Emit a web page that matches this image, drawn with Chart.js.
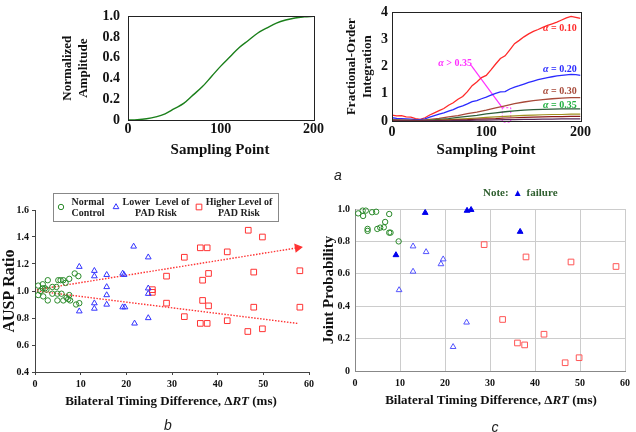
<!DOCTYPE html>
<html>
<head>
<meta charset="utf-8">
<script src="https://cdn.jsdelivr.net/npm/chart.js@4.4.1/dist/chart.umd.min.js"></script>
<style>
  html, body { margin: 0; padding: 0; background: #fff; }
  body { width: 636px; height: 432px; position: relative; overflow: hidden; }
  canvas { position: absolute; }
  .tag { position: absolute; font: italic 14px "Liberation Sans", Arial, sans-serif; color: #222; transform: translate(-50%, -50%); }
  .note { position: absolute; font: bold 11px "Liberation Serif", serif; color: #2f5f2f; white-space: nowrap; transform: translateY(-50%); }
  .note span { color: #0000ee; font-size: 10px; margin: 0 4px; }
</style>
</head>
<body>
<canvas id="ampChart" width="270" height="170" style="left:55px;top:0"></canvas>
<canvas id="fracChart" width="256" height="170" style="left:338px;top:0"></canvas>
<canvas id="ratioChart" width="320" height="250" style="left:0;top:180px"></canvas>
<canvas id="probChart" width="316" height="250" style="left:320px;top:180px"></canvas>
<div class="tag" style="left:338px;top:175px">a</div>
<div class="tag" style="left:168px;top:425px">b</div>
<div class="tag" style="left:495px;top:427px">c</div>
<div class="note" style="left:483px;top:192px">Note:<span>▲</span>failure</div>

<script>
// ---- datos panel a (izquierda): amplitud normalizada ----
const ampX = [0, 10, 20, 30, 40, 50, 60, 70, 80, 90, 100, 110, 120, 130, 140, 150, 160, 170, 180, 190, 200];
const ampY = [0, 0.003, 0.012, 0.03, 0.06, 0.11, 0.16, 0.24, 0.32, 0.42, 0.52, 0.61, 0.70, 0.77, 0.84, 0.89, 0.935, 0.965, 0.985, 0.995, 1.0];

// ---- datos panel a (derecha): integración fraccionaria ----
const fracX5 = [0, 5, 10, 15, 20, 25, 30, 35, 40, 45, 50, 55, 60, 65, 70, 75, 80, 85, 90, 95, 100,
  105, 110, 115, 120, 125, 130, 135, 140, 145, 150, 155, 160, 165, 170, 175, 180, 185, 190, 195, 200];
const alpha010 = [0.22, 0.19, 0.2, 0.15, 0.14, 0.09, 0.06, 0.12, 0.22, 0.3, 0.38, 0.46, 0.58, 0.67, 0.8, 0.9, 1.08, 1.3, 1.44, 1.6, 1.68,
  1.88, 2.1, 2.3, 2.4, 2.62, 2.85, 2.97, 3.1, 3.21, 3.3, 3.37, 3.45, 3.52, 3.58, 3.64, 3.72, 3.8, 3.85, 3.82, 3.78];
const alpha020 = [0.12, 0.1, 0.09, 0.08, 0.07, 0.05, 0.05, 0.08, 0.14, 0.2, 0.25, 0.3, 0.36, 0.42, 0.5, 0.56, 0.63, 0.71, 0.75, 0.82, 0.88,
  0.95, 1.02, 1.07, 1.08, 1.18, 1.25, 1.3, 1.36, 1.42, 1.47, 1.52, 1.56, 1.6, 1.63, 1.66, 1.68, 1.7, 1.72, 1.71, 1.68];
const fracX10 = [0, 10, 20, 30, 40, 50, 60, 70, 80, 90, 100, 110, 120, 130, 140, 150, 160, 170, 180, 190, 200];
const alpha030 = [0.05, 0.04, 0.03, 0.02, 0.06, 0.1, 0.15, 0.2, 0.27, 0.33, 0.4, 0.48, 0.56, 0.64, 0.7, 0.75, 0.79, 0.82, 0.84, 0.86, 0.86];
const alpha035 = [0.03, 0.02, 0.02, 0.01, 0.03, 0.06, 0.09, 0.13, 0.17, 0.21, 0.26, 0.3, 0.34, 0.37, 0.4, 0.42, 0.43, 0.44, 0.45, 0.45, 0.45];
const alpha040 = [0.02, 0.01, 0.01, 0.01, 0.02, 0.03, 0.05, 0.07, 0.09, 0.11, 0.13, 0.15, 0.17, 0.19, 0.21, 0.22, 0.23, 0.24, 0.24, 0.25, 0.25];
const alpha045 = [0.01, 0.01, 0.01, 0.01, 0.01, 0.02, 0.03, 0.04, 0.05, 0.07, 0.08, 0.09, 0.11, 0.12, 0.13, 0.14, 0.15, 0.16, 0.16, 0.17, 0.17];
const alpha050 = [0, 0, 0, 0, 0.01, 0.01, 0.01, 0.02, 0.02, 0.03, 0.03, 0.04, 0.05, 0.05, 0.06, 0.06, 0.07, 0.07, 0.08, 0.08, 0.08];
// flecha y recuadro magenta (alpha > 0.35)
const markLineX = [84, 117];
const markLineY = [2.05, 0.49];
const markBoxX = [117, 126, 126, 117, 117];
const markBoxY = [0.49, 0.49, -0.04, -0.04, 0.49];

// ---- datos panel b: AUSP ratio ----
const normalX = [0.7, 0.7, 1.2, 1.7, 1.7, 1.8, 2.2, 2.5, 2.8, 2.8, 3.8, 3.8, 4.7, 4.9, 4.9, 5.1, 5.6, 5.8, 6.2, 6.2, 6.7, 6.9, 7.3, 7.5, 7.5, 7.7, 8.7, 9.5, 9.0, 9.7];
const normalY = [1.04, 0.97, 1.0, 1.05, 1.02, 0.96, 1.02, 1.01, 1.08, 0.93, 1.03, 0.98, 1.03, 0.98, 0.93, 1.08, 1.08, 0.98, 1.08, 0.93, 1.06, 0.95, 0.94, 1.09, 0.97, 0.93, 1.13, 1.11, 0.90, 0.91];
const lowerX = [9.7, 9.7, 13, 13, 13, 13, 15.7, 15.7, 15.7, 15.7, 19.2, 19.5, 19.2, 19.7, 21.6, 21.8, 24.8, 24.8, 24.8, 24.8];
const lowerY = [1.18, 0.85, 1.15, 1.11, 0.91, 0.87, 1.12, 1.03, 0.97, 0.90, 1.13, 1.12, 0.88, 0.88, 1.33, 0.76, 1.25, 1.02, 0.98, 0.80];
const higherX = [25.7, 25.7, 28.8, 28.8, 32.7, 32.7, 36.2, 36.2, 36.7, 36.7, 37.7, 37.7, 38.0, 38.0, 42.1, 42.1, 46.6, 46.7, 47.9, 47.9, 49.8, 49.8, 58, 58];
const higherY = [1.01, 0.99, 1.11, 0.91, 1.25, 0.81, 0.76, 1.32, 1.08, 0.93, 0.76, 1.32, 1.13, 0.89, 0.78, 1.29, 0.70, 1.45, 1.14, 0.88, 0.72, 1.40, 1.15, 0.88];
const trendX = [0.4, 57.5];
const trendUpY = [1.01, 1.32];
const trendDownY = [1.0, 0.76];

// ---- datos panel c: probabilidad conjunta ----
const probNormalX = [0.7, 1.7, 1.8, 2.4, 3.8, 4.7, 7.6, 2.8, 2.8, 4.95, 5.6, 6.4, 6.7, 7.6, 7.9, 9.7];
const probNormalY = [0.973, 0.99, 0.957, 0.99, 0.98, 0.983, 0.969, 0.877, 0.865, 0.877, 0.885, 0.887, 0.92, 0.854, 0.854, 0.80];
const probLowerX = [12.9, 15.8, 12.9, 9.8, 19.1, 19.6, 24.8, 21.8];
const probLowerY = [0.77, 0.735, 0.614, 0.5, 0.66, 0.69, 0.30, 0.149];
const probFailX = [9.1, 15.6, 24.9, 25.8, 36.7];
const probFailY = [0.716, 0.977, 0.99, 0.995, 0.86];
const probHigherX = [28.7, 38.0, 48, 58, 32.8, 36.1, 37.7, 42, 46.7, 49.8];
const probHigherY = [0.78, 0.704, 0.673, 0.645, 0.318, 0.173, 0.161, 0.227, 0.051, 0.082];

const SERIF = '"Liberation Serif", "Times New Roman", serif';
Chart.defaults.font.family = SERIF;
Chart.defaults.font.weight = 'bold';
Chart.defaults.color = '#111';
Chart.defaults.animation = false;
Chart.defaults.responsive = false;
Chart.defaults.plugins.legend.display = false;
Chart.defaults.plugins.tooltip.enabled = false;

const pts = (xs, ys) => xs.map((x, i) => ({ x: x, y: ys[i] }));

// texto con tramos en cursiva (alpha, RT)
function drawRuns(ctx, runs, cx, cy, size, color) {
  ctx.save();
  ctx.fillStyle = color;
  ctx.textBaseline = 'middle';
  ctx.textAlign = 'left';
  let total = 0;
  runs.forEach(r => {
    ctx.font = (r.it ? 'italic ' : '') + 'bold ' + size + 'px ' + SERIF;
    r.w = ctx.measureText(r.t).width;
    total += r.w;
  });
  let x = cx - total / 2;
  runs.forEach(r => {
    ctx.font = (r.it ? 'italic ' : '') + 'bold ' + size + 'px ' + SERIF;
    ctx.fillText(r.t, x, cy);
    x += r.w;
  });
  ctx.restore();
}

// marco completo alrededor del área del gráfico
const framePlugin = {
  id: 'frame',
  afterDraw(chart) {
    const { ctx, chartArea: a } = chart;
    ctx.save();
    ctx.strokeStyle = '#222';
    ctx.lineWidth = 1;
    ctx.strokeRect(Math.round(a.left) + 0.5, Math.round(a.top) + 0.5, Math.round(a.right - a.left), Math.round(a.bottom - a.top));
    ctx.restore();
  }
};

// textos libres (en coordenadas de canvas o de datos)
const textPlugin = {
  id: 'texts',
  afterDraw(chart, args, opts) {
    const { ctx, scales } = chart;
    (opts.items || []).forEach(it => {
      let x = it.x, y = it.y;
      if (it.data) { x = scales.x.getPixelForValue(it.x); y = scales.y.getPixelForValue(it.y); }
      drawRuns(ctx, it.runs, x, y, it.size, it.color);
    });
  }
};

const tickFontA = { size: 14 };

// ==========================================
// PANEL a (izq): AMPLITUD NORMALIZADA
// ==========================================
new Chart(document.getElementById('ampChart'), {
  type: 'line',
  data: {
    datasets: [{ data: pts(ampX, ampY), borderColor: '#1a7f1a', borderWidth: 1.4, pointRadius: 0, tension: 0.4 }]
  },
  options: {
    layout: { padding: { top: 7, right: 10, left: 0, bottom: 0 } },
    plugins: {
      texts: { items: [{ x: 165, y: 150, size: 15, color: '#111', runs: [{ t: 'Sampling Point' }] }] }
    },
    scales: {
      x: {
        type: 'linear', min: 0, max: 200,
        ticks: { stepSize: 100, font: tickFontA, padding: 1, maxRotation: 0 },
        grid: { display: false, drawTicks: false },
        afterFit: s => { s.height = 50; }
      },
      y: {
        min: 0, max: 1,
        ticks: { stepSize: 0.2, font: tickFontA, padding: 8, callback: v => v === 0 ? '0' : v.toFixed(1) },
        grid: { display: false, drawTicks: false },
        title: { display: true, text: ['Normalized', 'Amplitude'], font: { size: 13 }, padding: { top: 5 } },
        afterFit: s => { s.width = 73; }
      }
    }
  },
  plugins: [framePlugin, textPlugin]
});

// ==========================================
// PANEL a (der): INTEGRACIÓN FRACCIONARIA
// ==========================================
const alphaLbl = (val, x, y, color) => ({ data: true, x: x, y: y, size: 10, color: color, runs: [{ t: 'α', it: true }, { t: ' ' + val }] });

new Chart(document.getElementById('fracChart'), {
  type: 'line',
  data: {
    datasets: [
      { data: pts(fracX10, alpha050), borderColor: '#5a2a5a', borderWidth: 1.2, pointRadius: 0 },
      { data: pts(fracX10, alpha045), borderColor: '#8b1a1a', borderWidth: 1.2, pointRadius: 0 },
      { data: pts(fracX10, alpha040), borderColor: '#a09020', borderWidth: 1.2, pointRadius: 0 },
      { data: pts(fracX10, alpha035), borderColor: '#2d5f3a', borderWidth: 1.3, pointRadius: 0 },
      { data: pts(fracX10, alpha030), borderColor: '#a84a3a', borderWidth: 1.3, pointRadius: 0 },
      { data: pts(fracX5, alpha020), borderColor: '#2a2aff', borderWidth: 1.3, pointRadius: 0 },
      { data: pts(fracX5, alpha010), borderColor: '#ff2a2a', borderWidth: 1.3, pointRadius: 0 },
      { data: pts(markLineX, markLineY), borderColor: '#ff30ff', borderWidth: 1.2, pointRadius: 0, clip: false },
      { data: pts(markBoxX, markBoxY), borderColor: '#ff30ff', borderWidth: 1, borderDash: [2, 2], pointRadius: 0, clip: false }
    ]
  },
  options: {
    layout: { padding: { top: 6, right: 10, left: 0, bottom: 0 } },
    plugins: {
      texts: {
        items: [
          { x: 148, y: 150, size: 15, color: '#111', runs: [{ t: 'Sampling Point' }] },
          alphaLbl('= 0.10', 178, 3.42, '#ff2a2a'),
          alphaLbl('= 0.20', 178, 1.91, '#2a2aff'),
          alphaLbl('= 0.30', 178, 1.08, '#a84a3a'),
          alphaLbl('= 0.35', 178, 0.59, '#20b040'),
          alphaLbl('> 0.35', 67, 2.12, '#ff30ff')
        ]
      }
    },
    scales: {
      x: {
        type: 'linear', min: 0, max: 200,
        ticks: { stepSize: 100, font: tickFontA, padding: 3, maxRotation: 0 },
        grid: { display: false, drawTicks: false },
        afterFit: s => { s.height = 49; }
      },
      y: {
        min: 0, max: 4,
        ticks: { stepSize: 1, font: tickFontA, padding: 4 },
        grid: { display: false, drawTicks: false },
        title: { display: true, text: ['Fractional-Order', 'Integration'], font: { size: 13 }, padding: { top: 6 } },
        afterFit: s => { s.width = 54; }
      }
    }
  },
  plugins: [framePlugin, textPlugin]
});

// ==========================================
// PANEL b: AUSP RATIO
// ==========================================
const GREEN = '#2a8a2a', BLUE = '#3333ff', RED = '#ff3333';
const NONE = 'rgba(0,0,0,0)';

// leyenda de dos líneas dibujada a mano
const ratioLegend = {
  id: 'ratioLegend',
  afterDraw(chart) {
    const ctx = chart.ctx;
    ctx.save();
    ctx.fillStyle = '#fff';
    ctx.strokeStyle = '#888';
    ctx.lineWidth = 1;
    ctx.fillRect(53.5, 13.5, 225, 28);
    ctx.strokeRect(53.5, 13.5, 225, 28);
    const items = [
      { ds: 0, mx: 61, tx: 88, lines: ['Normal', 'Control'] },
      { ds: 1, mx: 116, tx: 156, lines: ['Lower  Level of', 'PAD Risk'] },
      { ds: 2, mx: 199, tx: 239, lines: ['Higher Level of', 'PAD Risk'] }
    ];
    items.forEach(it => {
      const d = chart.data.datasets[it.ds];
      ctx.fillStyle = NONE;
      ctx.strokeStyle = d.borderColor;
      ctx.lineWidth = 1;
      Chart.helpers.drawPoint(ctx, { pointStyle: d.pointStyle, radius: d.pointRadius, borderWidth: 1 }, it.mx, 27);
      ctx.fillStyle = '#222';
      ctx.font = 'bold 10px ' + SERIF;
      ctx.textAlign = 'center';
      ctx.textBaseline = 'middle';
      ctx.fillText(it.lines[0], it.tx, 22);
      ctx.fillText(it.lines[1], it.tx, 33);
    });
    ctx.restore();
  }
};

new Chart(document.getElementById('ratioChart'), {
  type: 'scatter',
  data: {
    datasets: [
      { data: pts(normalX, normalY), pointStyle: 'circle', pointRadius: 2.7, borderColor: GREEN, backgroundColor: NONE, borderWidth: 1, clip: false },
      { data: pts(lowerX, lowerY), pointStyle: 'triangle', pointRadius: 3.3, borderColor: BLUE, backgroundColor: NONE, borderWidth: 1, clip: false },
      { data: pts(higherX, higherY), pointStyle: 'rect', pointRadius: 4, borderColor: RED, backgroundColor: NONE, borderWidth: 1, clip: false },
      { data: pts(trendX, trendUpY), showLine: true, borderColor: RED, borderWidth: 1.4, borderDash: [1.5, 1.5],
        pointStyle: 'triangle', pointRadius: [0, 4], pointRotation: [0, 81], pointBackgroundColor: RED, pointBorderColor: RED, clip: false },
      { data: pts(trendX, trendDownY), showLine: true, borderColor: RED, borderWidth: 1.4, borderDash: [1.5, 1.5], pointRadius: 0, clip: false }
    ]
  },
  options: {
    layout: { padding: { top: 30, right: 11, left: 0, bottom: 0 } },
    plugins: {
      texts: {
        items: [{ x: 171, y: 222, size: 13, color: '#111',
          runs: [{ t: 'Bilateral Timing Difference, Δ' }, { t: 'RT', it: true }, { t: ' (ms)' }] }]
      }
    },
    scales: {
      x: {
        type: 'linear', min: 0, max: 60,
        ticks: { stepSize: 10, font: { size: 10 }, padding: 3, maxRotation: 0 },
        grid: { drawOnChartArea: false, tickLength: 3, color: '#444' },
        border: { color: '#444' },
        afterFit: s => { s.height = 58; }
      },
      y: {
        min: 0.4, max: 1.6,
        ticks: { stepSize: 0.2, font: { size: 10 }, padding: 3, callback: v => v.toFixed(1) },
        grid: { drawOnChartArea: false, tickLength: 3, color: '#444' },
        border: { color: '#444' },
        title: { display: true, text: 'AUSP Ratio', font: { size: 16 }, padding: { top: 0 } },
        afterFit: s => { s.width = 35; }
      }
    }
  },
  plugins: [textPlugin, ratioLegend]
});

// ==========================================
// PANEL c: PROBABILIDAD CONJUNTA
// ==========================================
new Chart(document.getElementById('probChart'), {
  type: 'scatter',
  data: {
    datasets: [
      { data: pts(probNormalX, probNormalY), pointStyle: 'circle', pointRadius: 2.7, borderColor: GREEN, backgroundColor: NONE, borderWidth: 1, clip: false },
      { data: pts(probLowerX, probLowerY), pointStyle: 'triangle', pointRadius: 3.3, borderColor: '#5555ff', backgroundColor: NONE, borderWidth: 1, clip: false },
      { data: pts(probFailX, probFailY), pointStyle: 'triangle', pointRadius: 3.3, borderColor: '#0000ee', backgroundColor: '#0000ee', borderWidth: 1, clip: false },
      { data: pts(probHigherX, probHigherY), pointStyle: 'rect', pointRadius: 4, borderColor: '#ff5555', backgroundColor: NONE, borderWidth: 1, clip: false }
    ]
  },
  options: {
    layout: { padding: { top: 29, right: 6, left: 0, bottom: 0 } },
    plugins: {
      texts: {
        items: [{ x: 171, y: 221, size: 13, color: '#111',
          runs: [{ t: 'Bilateral Timing Difference, Δ' }, { t: 'RT', it: true }, { t: ' (ms)' }] }]
      }
    },
    scales: {
      x: {
        type: 'linear', min: 0, max: 60,
        ticks: { stepSize: 10, font: { size: 10 }, padding: 6, maxRotation: 0 },
        grid: { color: '#cccccc', drawTicks: false },
        border: { color: '#888' },
        afterFit: s => { s.height = 59; }
      },
      y: {
        min: 0, max: 1,
        ticks: { stepSize: 0.2, font: { size: 10 }, padding: 5 },
        grid: { color: '#cccccc', drawTicks: false },
        border: { color: '#888' },
        title: { display: true, text: 'Joint Probability', font: { size: 15 }, padding: { top: 0 } },
        afterFit: s => { s.width = 35; }
      }
    }
  },
  plugins: [textPlugin]
});
</script>
</body>
</html>
